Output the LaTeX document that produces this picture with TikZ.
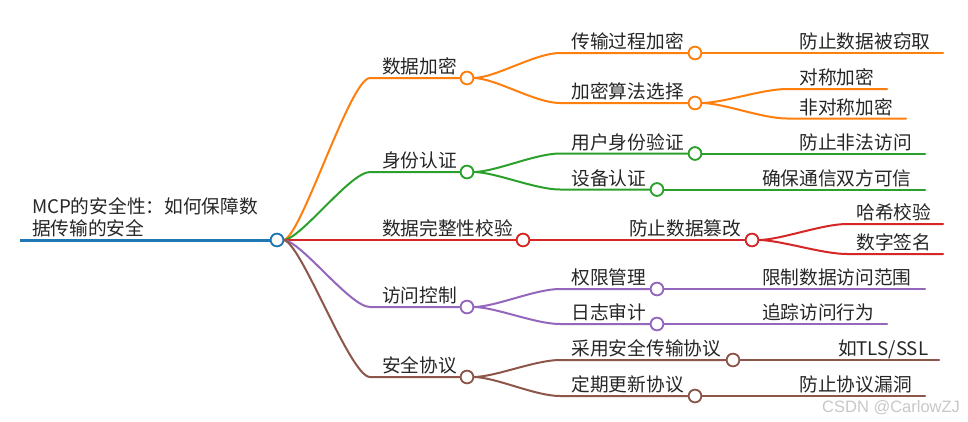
\documentclass[tikz,border=0pt]{standalone}
\usepackage{fontspec}
\newfontfamily\cjk{Noto Sans CJK SC}
\newfontfamily\wmfont{Liberation Sans}
\definecolor{cBlue}{HTML}{1F77B4}
\definecolor{cOrange}{HTML}{FF7F0E}
\definecolor{cGreen}{HTML}{2CA02C}
\definecolor{cRed}{HTML}{D62728}
\definecolor{cPurple}{HTML}{9467BD}
\definecolor{cBrown}{HTML}{8C564B}
\definecolor{cWm}{HTML}{C8C8C8}
\tikzset{
  dot/.style={circle, draw, fill=white, line width=1.7pt, minimum size=12.6pt, inner sep=0pt, outer sep=0pt},
  lbl/.style={anchor=base west, inner sep=0pt, outer sep=0pt, font=\cjk\fontsize{18.7}{22}\selectfont, text=black!85},
  br/.style={line width=2pt, line cap=round},
  cv/.style={line width=2pt, line cap=round},
}
\begin{document}
\begin{tikzpicture}[x=1pt, y=-1pt]
\useasboundingbox (0,0) rectangle (968,421);
\fill[white] (0,0) rectangle (968,421);

% ---------- coordinates ----------
\coordinate (rs) at (20,240);
\coordinate (b1) at (370,78);
\coordinate (b2) at (370,172);
\coordinate (b4) at (370,307);
\coordinate (b5) at (370,377);
\coordinate (b11) at (560,53);
\coordinate (b12) at (560,103);
\coordinate (b21) at (560,153.5);
\coordinate (b22) at (560,189.5);
\coordinate (b41) at (560,289);
\coordinate (b42) at (560,324);
\coordinate (b51) at (560,360);
\coordinate (b52) at (560,396);
\coordinate (b121) at (787,89);
\coordinate (b122) at (787,118.5);
\coordinate (b311) at (847,224);
\coordinate (b312) at (847,254);
\coordinate (e111) at (943,53);
\coordinate (e121) at (887,89);
\coordinate (e122) at (906,118.5);
\coordinate (e211) at (925,153.5);
\coordinate (e221) at (925,189.5);
\coordinate (e311) at (943,224);
\coordinate (e312) at (943,254);
\coordinate (e411) at (925,289);
\coordinate (e421) at (887,324);
\coordinate (e511) at (939,360);
\coordinate (e521) at (925,396);

% ---------- dots ----------
\path
  (277,240) node[dot, draw=cBlue] (r) {}
  (467,78) node[dot, draw=cOrange] (n1) {}
  (467,172) node[dot, draw=cGreen] (n2) {}
  (523,240) node[dot, draw=cRed] (n3) {}
  (467,307) node[dot, draw=cPurple] (n4) {}
  (467,377) node[dot, draw=cBrown] (n5) {}
  (695,53) node[dot, draw=cOrange] (n11) {}
  (695,103) node[dot, draw=cOrange] (n12) {}
  (695,153.5) node[dot, draw=cGreen] (n21) {}
  (657,189.5) node[dot, draw=cGreen] (n22) {}
  (752,240) node[dot, draw=cRed] (n31) {}
  (657,289) node[dot, draw=cPurple] (n41) {}
  (657,324) node[dot, draw=cPurple] (n42) {}
  (733,360) node[dot, draw=cBrown] (n51) {}
  (695,396) node[dot, draw=cBrown] (n52) {};

% ---------- connectors ----------
\draw[line width=3pt, cBlue] (rs) -- (r.west);
% root -> level 1
\draw[cv, cOrange] (r.east) .. controls +(17,0) and +(-20,0) .. (b1) -- (n1.west);
\draw[cv, cGreen] (r.east) .. controls +(17,0) and +(-20,0) .. (b2) -- (n2.west);
\draw[br, cRed] (r.east) -- (n3.west);
\draw[cv, cPurple] (r.east) .. controls +(17,0) and +(-20,0) .. (b4) -- (n4.west);
\draw[cv, cBrown] (r.east) .. controls +(17,0) and +(-20,0) .. (b5) -- (n5.west);
% level 1 -> level 2
\draw[cv, cOrange] (n1.east) .. controls +(22,0) and +(-25,0) .. (b11) -- (n11.west);
\draw[cv, cOrange] (n1.east) .. controls +(22,0) and +(-25,0) .. (b12) -- (n12.west);
\draw[cv, cGreen] (n2.east) .. controls +(22,0) and +(-25,0) .. (b21) -- (n21.west);
\draw[cv, cGreen] (n2.east) .. controls +(22,0) and +(-25,0) .. (b22) -- (n22.west);
\draw[br, cRed] (n3.east) -- (n31.west);
\draw[cv, cPurple] (n4.east) .. controls +(22,0) and +(-25,0) .. (b41) -- (n41.west);
\draw[cv, cPurple] (n4.east) .. controls +(22,0) and +(-25,0) .. (b42) -- (n42.west);
\draw[cv, cBrown] (n5.east) .. controls +(22,0) and +(-25,0) .. (b51) -- (n51.west);
\draw[cv, cBrown] (n5.east) .. controls +(22,0) and +(-25,0) .. (b52) -- (n52.west);
% level 2 -> level 3
\draw[br, cOrange] (n11.east) -- (e111);
\draw[cv, cOrange] (n12.east) .. controls +(22,0) and +(-25,0) .. (b121) -- (e121);
\draw[cv, cOrange] (n12.east) .. controls +(22,0) and +(-25,0) .. (b122) -- (e122);
\draw[br, cGreen] (n21.east) -- (e211);
\draw[br, cGreen] (n22.east) -- (e221);
\draw[cv, cRed] (n31.east) .. controls +(22,0) and +(-25,0) .. (b311) -- (e311);
\draw[cv, cRed] (n31.east) .. controls +(22,0) and +(-25,0) .. (b312) -- (e312);
\draw[br, cPurple] (n41.east) -- (e411);
\draw[br, cPurple] (n42.east) -- (e421);
\draw[br, cBrown] (n51.east) -- (e511);
\draw[br, cBrown] (n52.east) -- (e521);

% dots on top of the connectors
\foreach \n/\c in {r/cBlue,n1/cOrange,n2/cGreen,n3/cRed,n4/cPurple,n5/cBrown,n11/cOrange,n12/cOrange,n21/cGreen,n22/cGreen,n31/cRed,n41/cPurple,n42/cPurple,n51/cBrown,n52/cBrown}
  \draw[\c, fill=white, line width=1.7pt] (\n.center) circle (6.3);

% ---------- texts ----------
\node[lbl] (t0a) at (32,213.5) {MCP的安全性：如何保障数};
\node[lbl] (t0b) at (32,235.5) {据传输的安全};

\node[lbl] (t1) at (382,73.7) {数据加密};
\node[lbl] (t2) at (382,167.7) {身份认证};
\node[lbl] (t3) at (382,235.7) {数据完整性校验};
\node[lbl] (t4) at (382,302.7) {访问控制};
\node[lbl] (t5) at (382,372.7) {安全协议};

\node[lbl] (t11) at (571.5,48.7) {传输过程加密};
\node[lbl] (t12) at (571.5,98.7) {加密算法选择};
\node[lbl] (t21) at (571.5,149.2) {用户身份验证};
\node[lbl] (t22) at (571.5,185.2) {设备认证};
\node[lbl] (t31) at (629,235.7) {防止数据篡改};
\node[lbl] (t41) at (571.5,284.7) {权限管理};
\node[lbl] (t42) at (571.5,319.7) {日志审计};
\node[lbl] (t51) at (571.5,355.7) {采用安全传输协议};
\node[lbl] (t52) at (571.5,391.7) {定期更新协议};

\node[lbl] (t111) at (799.5,48.7) {防止数据被窃取};
\node[lbl] (t121) at (799.5,84.7) {对称加密};
\node[lbl] (t122) at (799.5,114.2) {非对称加密};
\node[lbl] (t211) at (799.5,149.2) {防止非法访问};
\node[lbl] (t221) at (762,185.2) {确保通信双方可信};
\node[lbl] (t311) at (856.5,219.7) {哈希校验};
\node[lbl] (t312) at (856.5,249.7) {数字签名};
\node[lbl] (t411) at (762,284.7) {限制数据访问范围};
\node[lbl] (t421) at (762,319.7) {追踪访问行为};
\node[lbl] (t511) at (838,355.7) {如TLS/SSL};
\node[lbl] (t521) at (799.5,391.7) {防止协议漏洞};

\node[anchor=base west, inner sep=0pt, font=\wmfont\fontsize{16.5}{18}\selectfont, text=cWm] (wm) at (822,412) {CSDN @CarlowZJ};
\end{tikzpicture}
\end{document}
